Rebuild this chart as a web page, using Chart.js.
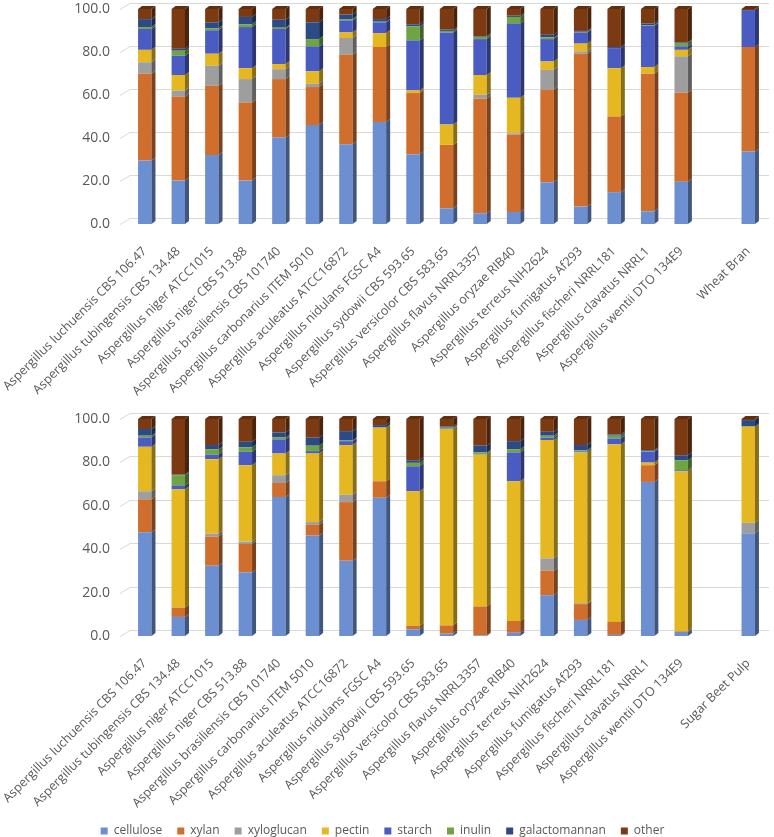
<!DOCTYPE html>
<html>
<head>
<meta charset="utf-8">
<script src="https://cdn.jsdelivr.net/npm/chart.js@4.4.1/dist/chart.umd.min.js"></script>
<style>
  html, body { margin: 0; padding: 0; background: #fff; overflow: hidden; }
  #top, #bottom { position: absolute; left: 0; }
  #top { top: 0; }
  #bottom { top: 405px; }
</style>
</head>
<body>
<canvas id="top" width="774" height="405"></canvas>
<canvas id="bottom" width="774" height="442"></canvas>
<script>
const strains = [
  "Aspergillus luchuensis CBS 106.47",
  "Aspergillus tubingensis CBS 134.48",
  "Aspergillus niger ATCC1015",
  "Aspergillus niger CBS 513.88",
  "Aspergillus brasiliensis CBS 101740",
  "Aspergillus carbonarius ITEM 5010",
  "Aspergillus aculeatus ATCC16872",
  "Aspergillus nidulans FGSC A4",
  "Aspergillus sydowii CBS 593.65",
  "Aspergillus versicolor CBS 583.65",
  "Aspergillus flavus NRRL3357",
  "Aspergillus oryzae RIB40",
  "Aspergillus terreus NIH2624",
  "Aspergillus fumigatus Af293",
  "Aspergillus fischeri NRRL181",
  "Aspergillus clavatus NRRL1",
  "Aspergillus wentii DTO 134E9"
];
const topLabels = [...strains, "", "Wheat Bran"];
const bottomLabels = [...strains, "", "Sugar Beet Pulp"];

const components = ["cellulose", "xylan", "xyloglucan", "pectin", "starch", "inulin", "galactomannan", "other"];
const colors = ["#6c8fd1", "#cf6e2d", "#9e9e9e", "#e5b822", "#4a5bc1", "#6ea542", "#2b4a86", "#7c3a12"];
const yTicks = [0, 20, 40, 60, 80, 100];

// wheat bran cultures (top)
const wbCellulose     = [29.5, 20.2, 32.1, 20.2, 40.2, 46.0, 37.1, 47.5, 32.5, 7.3, 5.0, 5.6, 19.4, 8.1, 14.8, 5.9, 19.7, null, 33.7];
const wbXylan         = [40.4, 39.1, 32.2, 36.3, 27.2, 17.7, 41.6, 34.8, 28.4, 29.5, 53.4, 35.9, 43.0, 71.1, 35.2, 64.0, 41.5, null, 48.6];
const wbXyloglucan    = [5.3, 2.8, 9.3, 10.9, 4.6, 1.5, 7.8, 0, 0, 0, 1.7, 0.7, 9.3, 1.1, 0, 0, 16.8, null, 0];
const wbPectin        = [5.8, 7.2, 5.6, 5.1, 2.4, 5.8, 2.6, 6.5, 1.2, 9.5, 9.2, 16.5, 3.9, 3.6, 22.5, 3.1, 3.0, null, 0];
const wbStarch        = [9.7, 9.0, 10.9, 19.1, 16.3, 11.6, 5.6, 5.0, 23.3, 42.8, 16.7, 34.5, 10.4, 5.2, 9.3, 19.2, 1.6, null, 17.2];
const wbInulin        = [0.9, 2.3, 0.9, 1.3, 0.6, 3.4, 0.6, 0.3, 6.5, 0.7, 1.0, 3.1, 0.8, 0.3, 0, 0.3, 1.6, null, 0];
const wbGalactomannan = [3.7, 0.9, 2.8, 3.4, 3.7, 7.8, 2.1, 1.2, 1.0, 0.6, 0.3, 0.6, 1.2, 0.4, 0.5, 0.7, 0.3, null, 0];
const wbOther         = [4.7, 18.5, 6.2, 3.7, 5.0, 6.2, 2.6, 4.7, 7.1, 9.6, 12.7, 3.1, 12.0, 10.2, 17.7, 6.8, 15.5, null, 0.5];

// sugar beet pulp cultures (bottom)
const sbCellulose     = [47.8, 8.8, 32.4, 29.3, 64.0, 46.3, 34.7, 63.7, 3.1, 1.1, 0.3, 1.5, 18.8, 7.4, 0.5, 71.0, 1.9, null, 47.4];
const sbXylan         = [15.2, 4.3, 13.4, 13.1, 6.5, 4.9, 27.0, 7.6, 1.5, 3.8, 13.3, 5.4, 11.3, 7.3, 6.0, 7.7, 0.3, null, 0];
const sbXyloglucan    = [3.7, 0, 1.3, 1.1, 3.6, 1.3, 3.4, 0, 0, 0, 0, 0, 5.7, 0.4, 0, 0, 0, null, 4.8];
const sbPectin        = [20.5, 54.5, 34.4, 35.2, 10.0, 31.6, 22.9, 24.7, 62.1, 90.5, 70.0, 64.4, 54.5, 69.5, 81.8, 1.2, 73.7, null, 44.3];
const sbStarch        = [4.3, 1.8, 2.1, 6.2, 6.5, 1.1, 1.8, 0.2, 11.5, 0.2, 0.3, 13.3, 1.1, 0.5, 2.7, 5.0, 0.5, null, 0];
const sbInulin        = [0.8, 4.7, 2.4, 2.0, 0.9, 2.5, 0.3, 0, 1.6, 0.4, 0.7, 1.5, 0.9, 0.5, 1.3, 0.2, 4.6, null, 0];
const sbGalactomannan = [3.1, 0.3, 2.0, 2.6, 2.3, 3.7, 4.3, 1.0, 1.2, 0.6, 3.1, 3.7, 1.8, 2.4, 0.6, 0.5, 2.3, null, 3.0];
const sbOther         = [4.6, 25.6, 12.0, 10.5, 6.2, 8.6, 5.6, 2.8, 19.0, 3.4, 12.3, 10.2, 5.9, 12.0, 7.1, 14.4, 16.7, null, 0.5];

const topSeries = [wbCellulose, wbXylan, wbXyloglucan, wbPectin, wbStarch, wbInulin, wbGalactomannan, wbOther];
const bottomSeries = [sbCellulose, sbXylan, sbXyloglucan, sbPectin, sbStarch, sbInulin, sbGalactomannan, sbOther];

const textColor = "#595959";
const fontFamily = "'Open Sans', 'Noto Sans', sans-serif";

function shade(hex, f) {
  const n = parseInt(hex.slice(1), 16);
  const r = Math.round(((n >> 16) & 255) * f);
  const g = Math.round(((n >> 8) & 255) * f);
  const b = Math.round((n & 255) * f);
  return `rgb(${r},${g},${b})`;
}

// back walls gridlines, a bit up and to the right like the excel 3d chart
const backGrid = {
  id: "backGrid",
  beforeDatasetsDraw(chart) {
    const ctx = chart.ctx;
    const area = chart.chartArea;
    const y = chart.scales.y;
    ctx.save();
    ctx.strokeStyle = "#d9d9d9";
    ctx.lineWidth = 1;
    yTicks.forEach((v) => {
      const py = Math.round(y.getPixelForValue(v)) - 5.5;
      ctx.beginPath();
      ctx.moveTo(area.left - 8, py + 6);
      ctx.lineTo(area.left + 2, py);
      ctx.lineTo(area.right + 4, py);
      ctx.stroke();
    });
    ctx.restore();
  }
};

// side and top faces of the bars
const bar3d = {
  id: "bar3d",
  afterDatasetsDraw(chart) {
    const ctx = chart.ctx;
    const dx = 4, dy = 3;
    ctx.save();
    chart.data.labels.forEach((lab, i) => {
      let topBar = null;
      let topColor = null;
      chart.data.datasets.forEach((ds, k) => {
        const bar = chart.getDatasetMeta(k).data[i];
        if (!bar || !ds.data[i]) return;
        const right = bar.x + bar.width / 2;
        ctx.fillStyle = shade(ds.backgroundColor, 0.6);
        ctx.beginPath();
        ctx.moveTo(right, bar.y);
        ctx.lineTo(right + dx, bar.y - dy);
        ctx.lineTo(right + dx, bar.base - dy);
        ctx.lineTo(right, bar.base);
        ctx.closePath();
        ctx.fill();
        topBar = bar;
        topColor = ds.backgroundColor;
      });
      if (topBar) {
        const left = topBar.x - topBar.width / 2;
        const right = topBar.x + topBar.width / 2;
        ctx.fillStyle = shade(topColor, 0.8);
        ctx.beginPath();
        ctx.moveTo(left, topBar.y);
        ctx.lineTo(left + dx, topBar.y - dy);
        ctx.lineTo(right + dx, topBar.y - dy);
        ctx.lineTo(right, topBar.y);
        ctx.closePath();
        ctx.fill();
      }
    });
    ctx.restore();
  }
};

function makeChart(id, labels, series, showLegend, padTop, xHeight) {
  const ctx = document.getElementById(id).getContext("2d");
  return new Chart(ctx, {
    type: "bar",
    data: {
      labels: labels,
      datasets: series.map((vals, k) => ({
        label: components[k],
        data: vals,
        backgroundColor: colors[k],
        borderWidth: 0,
        barPercentage: 0.4,
        categoryPercentage: 1.0
      }))
    },
    options: {
      responsive: false,
      animation: false,
      layout: { padding: { top: padTop, right: 9, left: 0, bottom: 0 } },
      plugins: {
        tooltip: { enabled: false },
        legend: {
          display: showLegend,
          position: "bottom",
          labels: {
            boxWidth: 7,
            boxHeight: 7,
            padding: 15,
            color: textColor,
            font: { family: fontFamily, size: 12 }
          }
        }
      },
      scales: {
        x: {
          stacked: true,
          grid: { display: false },
          border: { display: false },
          ticks: {
            autoSkip: false,
            maxRotation: 45,
            minRotation: 45,
            padding: 12,
            color: textColor,
            font: { family: fontFamily, size: 12.5 }
          },
          afterFit: (scale) => {
            // keep the plot where it is, the long first label may run to the page edge
            scale.height = xHeight;
            scale.paddingLeft = 0;
            scale.paddingRight = 0;
          }
        },
        y: {
          stacked: true,
          min: 0,
          max: 100,
          grid: { display: false },
          border: { display: false },
          ticks: {
            stepSize: 20,
            padding: 10,
            color: textColor,
            font: { family: fontFamily, size: 14 },
            callback: (v) => v.toFixed(1)
          },
          afterFit: (scale) => {
            scale.width = 128;
            scale.paddingTop = 0;
            scale.paddingBottom = 0;
          }
        }
      }
    },
    plugins: [backGrid, bar3d]
  });
}

makeChart("top", topLabels, topSeries, false, 9, 181);
makeChart("bottom", bottomLabels, bottomSeries, true, 14, 174);
</script>
</body>
</html>
